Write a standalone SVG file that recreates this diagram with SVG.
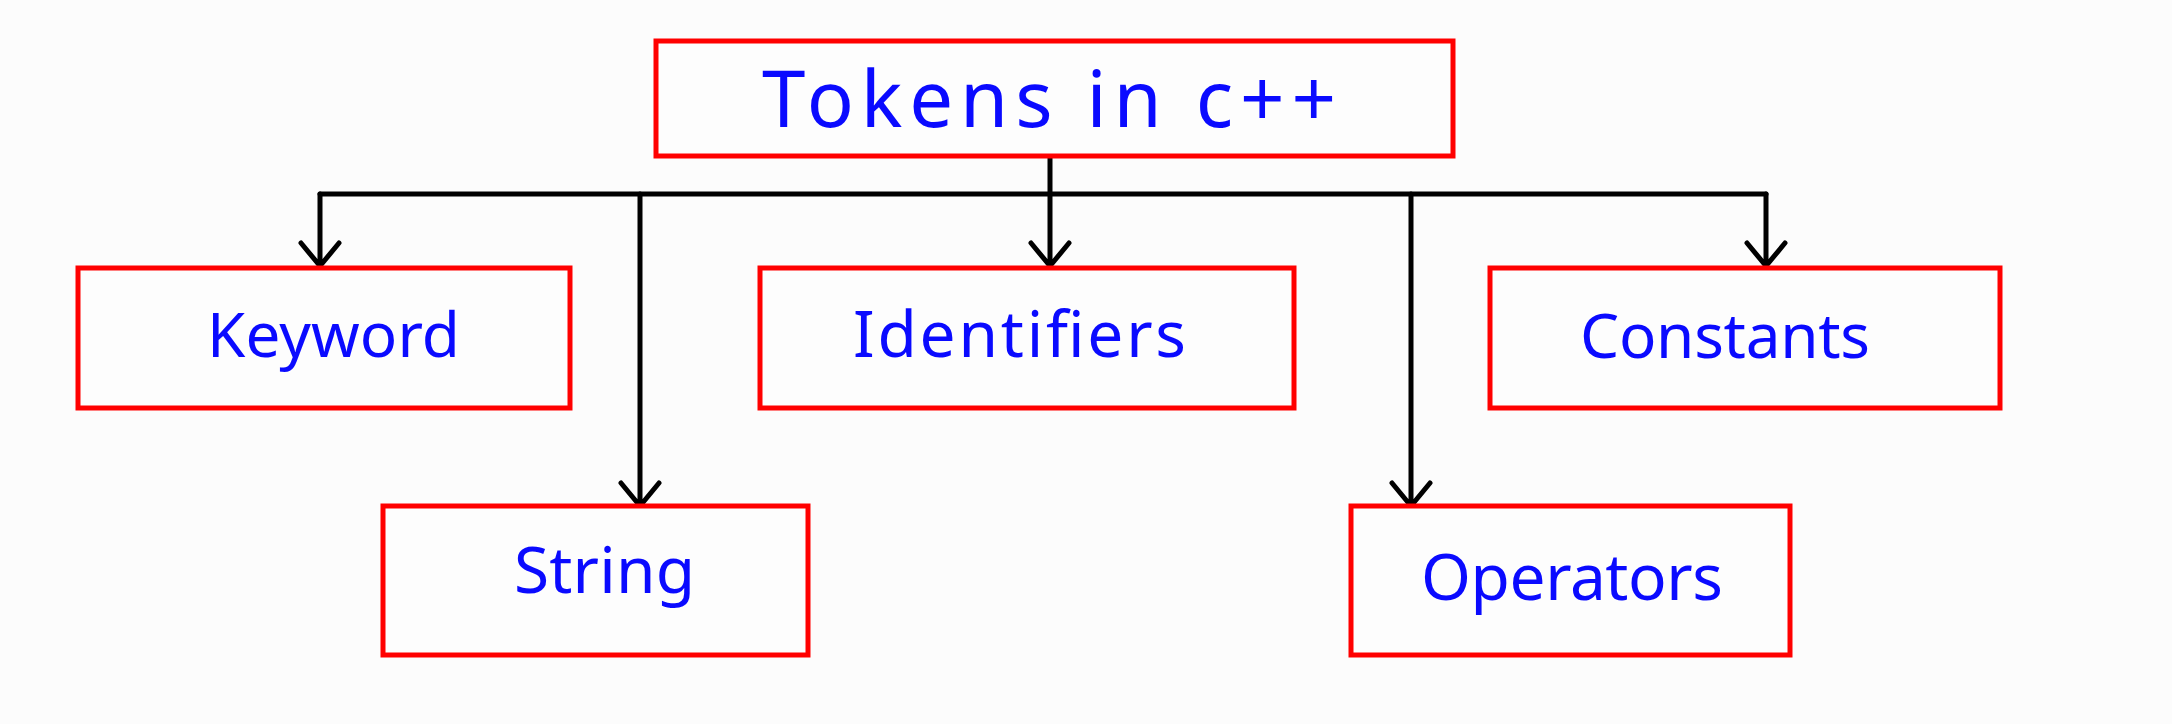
<svg xmlns="http://www.w3.org/2000/svg" width="2172" height="724" viewBox="0 0 2172 724">
<style>
.box{fill:#fdfdfd;stroke:#ff0000;stroke-width:5}
.lbl{font-family:"Noto Sans","DejaVu Sans",sans-serif;fill:#0a0aff;font-weight:normal}
.con{fill:none;stroke:#000;stroke-width:5;stroke-linejoin:round;stroke-linecap:round}
</style>
<rect width="2172" height="724" fill="#fcfcfc"/>
<g id="connectors" class="con">
<path d="M1050 156 V194"/>
<path d="M320 194 H1766"/>
<path d="M320 194 V266 M301 243 L320 266 L339 243"/>
<path d="M640 194 V506 M621 483 L640 506 L659 483"/>
<path d="M1050 194 V266 M1031 243 L1050 266 L1069 243"/>
<path d="M1411 194 V506 M1392 483 L1411 506 L1430 483"/>
<path d="M1766 194 V266 M1747 243 L1766 266 L1785 243"/>
</g>
<g id="tokens">
<rect class="box" x="656" y="41" width="797" height="115"/>
<text class="lbl" x="762" y="127" font-size="78" textLength="574" lengthAdjust="spacing">Tokens in c++</text>
</g>
<g id="keyword">
<rect class="box" x="78" y="268" width="492" height="140"/>
<text class="lbl" x="207" y="357" font-size="62" textLength="253" lengthAdjust="spacing">Keyword</text>
</g>
<g id="identifiers">
<rect class="box" x="760" y="268" width="534" height="140"/>
<text class="lbl" x="853" y="357" font-size="64" textLength="333" lengthAdjust="spacing">Identifiers</text>
</g>
<g id="constants">
<rect class="box" x="1490" y="268" width="510" height="140"/>
<text class="lbl" x="1580" y="358" font-size="62" textLength="290" lengthAdjust="spacing">Constants</text>
</g>
<g id="string">
<rect class="box" x="383" y="506" width="425" height="149"/>
<text class="lbl" x="514" y="593" font-size="64" textLength="181" lengthAdjust="spacing">String</text>
</g>
<g id="operators">
<rect class="box" x="1351" y="506" width="439" height="149"/>
<text class="lbl" x="1421" y="600" font-size="64" textLength="302" lengthAdjust="spacing">Operators</text>
</g>
</svg>
